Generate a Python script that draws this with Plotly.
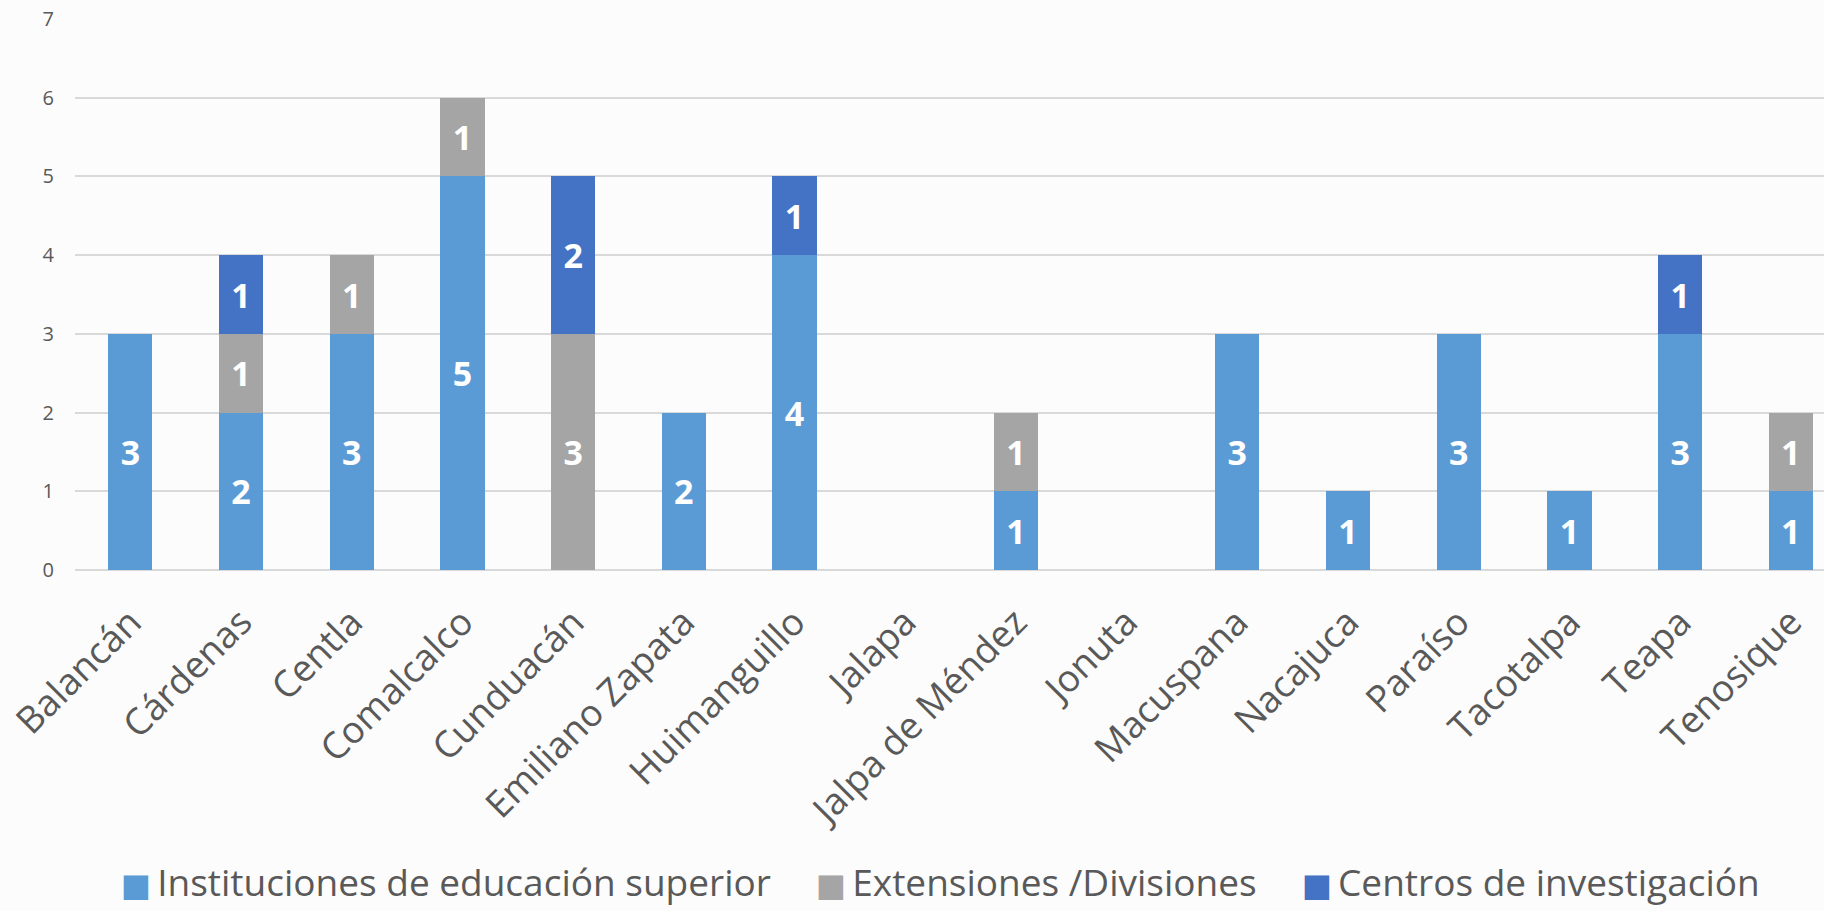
import plotly.graph_objects as go

municipios = ["Balancán", "Cárdenas", "Centla", "Comalcalco", "Cunduacán", "Emiliano Zapata",
              "Huimanguillo", "Jalapa", "Jalpa de Méndez", "Jonuta", "Macuspana", "Nacajuca",
              "Paraíso", "Tacotalpa", "Teapa", "Tenosique"]
instituciones = [3, 2, 3, 5, 0, 2, 4, 0, 1, 0, 3, 1, 3, 1, 3, 1]
extensiones = [0, 1, 1, 1, 3, 0, 0, 0, 1, 0, 0, 0, 0, 0, 0, 1]
centros = [0, 1, 0, 0, 2, 0, 1, 0, 0, 0, 0, 0, 0, 0, 1, 0]

series = [
    ("Instituciones de educación superior", instituciones, "#5B9BD5"),
    ("Extensiones /Divisiones", extensiones, "#A5A5A5"),
    ("Centros de investigación", centros, "#4472C4"),
]

fig = go.Figure()
for name, vals, color in series:
    fig.add_trace(go.Bar(
        x=municipios, y=[v if v else None for v in vals], name=name,
        marker=dict(color=color, line=dict(width=0)),
        text=[str(v) if v else "" for v in vals],
        textposition="inside", insidetextanchor="middle", textangle=0,
        constraintext="none", showlegend=False,
        textfont=dict(family="Open Sans", size=34, color="white", weight="bold"),
    ))
for name, vals, color in series:
    fig.add_trace(go.Scatter(
        x=[None], y=[None], mode="markers",
        name=(f"<span style='color:{color};font-family:DejaVu Sans;font-size:32px'>■</span>"
              f"\u2009{name}"),
        marker=dict(symbol="square", size=1, color="rgba(0,0,0,0)"), showlegend=True,
    ))

fig.update_layout(
    barmode="stack", bargap=0.6,
    width=1824, height=911,
    margin=dict(l=75, r=0, t=19, b=341, autoexpand=False),
    paper_bgcolor="#FCFCFC", plot_bgcolor="rgba(0,0,0,0)",
    font=dict(family="Open Sans", color="#595959"),
    xaxis=dict(range=[-0.5, 15.3], tickangle=-45, tickfont=dict(size=37, color="#595959"),
               showgrid=False, ticks="", showline=False, automargin=False,
               ticklabelstandoff=22),
    yaxis=dict(range=[0, 7], dtick=1, showgrid=True, gridcolor="#D9D9D9", gridwidth=1.5,
               zeroline=True, zerolinecolor="#D9D9D9", zerolinewidth=1.5, automargin=False,
               tickfont=dict(size=20, color="#595959"), ticks="", ticklabelstandoff=20),
    legend=dict(orientation="h", x=0.485, xanchor="center", yref="paper", y=-0.566,
                yanchor="middle", font=dict(size=37, color="#595959"),
                traceorder="normal", bgcolor="rgba(0,0,0,0)"),
    showlegend=True,
)

fig.write_html("out.html", config={"displayModeBar": False},
               post_script="document.body.style.margin='0px';")
